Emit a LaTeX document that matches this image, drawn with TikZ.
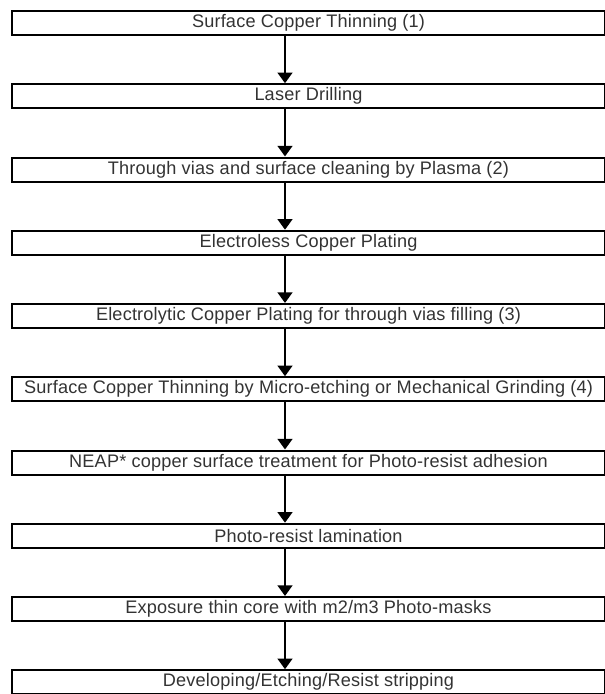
\documentclass[tikz,border=0pt]{standalone}
\usepackage{fontspec}
\setmainfont{Liberation Sans}[LetterSpace=1]
\usetikzlibrary{arrows.meta}

\begin{document}
\begin{tikzpicture}[x=0.75pt, y=-0.75pt]

\def\cx{308.5}  % centre of the step boxes
\def\ax{285}    % x position of the arrows
\def\ya{23}     % centre of the first box
\def\dy{73.25}  % distance between two steps

\tikzset{stepbox/.style = {draw, line width=1.5pt, inner sep=0pt,
                           minimum width=445pt, minimum height=18pt,
                           text=black!80, font=\fontsize{13.6}{16}\selectfont}
        }

\tikzset{flow/.style = {line width=1.8pt, -{Triangle[width=11pt, length=8pt]}}
        }

\useasboundingbox (0,0) rectangle (605,694);
\clip (0,0) rectangle (605,694);

\coordinate (ax) at (\ax, 0);

% process steps
\node[stepbox] (s1)  at (\cx, \ya+0*\dy) {Surface Copper Thinning (1)};
\node[stepbox] (s2)  at (\cx, \ya+1*\dy) {Laser Drilling};
\node[stepbox] (s3)  at (\cx, \ya+2*\dy) {Through vias and surface cleaning by Plasma (2)};
\node[stepbox] (s4)  at (\cx, \ya+3*\dy) {Electroless Copper Plating};
\node[stepbox] (s5)  at (\cx, \ya+4*\dy) {Electrolytic Copper Plating for through vias filling (3)};
\node[stepbox] (s6)  at (\cx, \ya+5*\dy) {Surface Copper Thinning by Micro-etching or Mechanical Grinding (4)};
\node[stepbox] (s7)  at (\cx, \ya+6*\dy) {NEAP* copper surface treatment for Photo-resist adhesion};
\node[stepbox] (s8)  at (\cx, \ya+7*\dy) {Photo-resist lamination};
\node[stepbox] (s9)  at (\cx, \ya+8*\dy) {Exposure thin core with m2/m3 Photo-masks};
\node[stepbox] (s10) at (\cx, \ya+9*\dy) {Developing/Etching/Resist stripping};

% arrows between the steps
\draw[flow] (s1.south -| ax) -- (s2.north -| ax);
\draw[flow] (s2.south -| ax) -- (s3.north -| ax);
\draw[flow] (s3.south -| ax) -- (s4.north -| ax);
\draw[flow] (s4.south -| ax) -- (s5.north -| ax);
\draw[flow] (s5.south -| ax) -- (s6.north -| ax);
\draw[flow] (s6.south -| ax) -- (s7.north -| ax);
\draw[flow] (s7.south -| ax) -- (s8.north -| ax);
\draw[flow] (s8.south -| ax) -- (s9.north -| ax);
\draw[flow] (s9.south -| ax) -- (s10.north -| ax);

\end{tikzpicture}
\end{document}
